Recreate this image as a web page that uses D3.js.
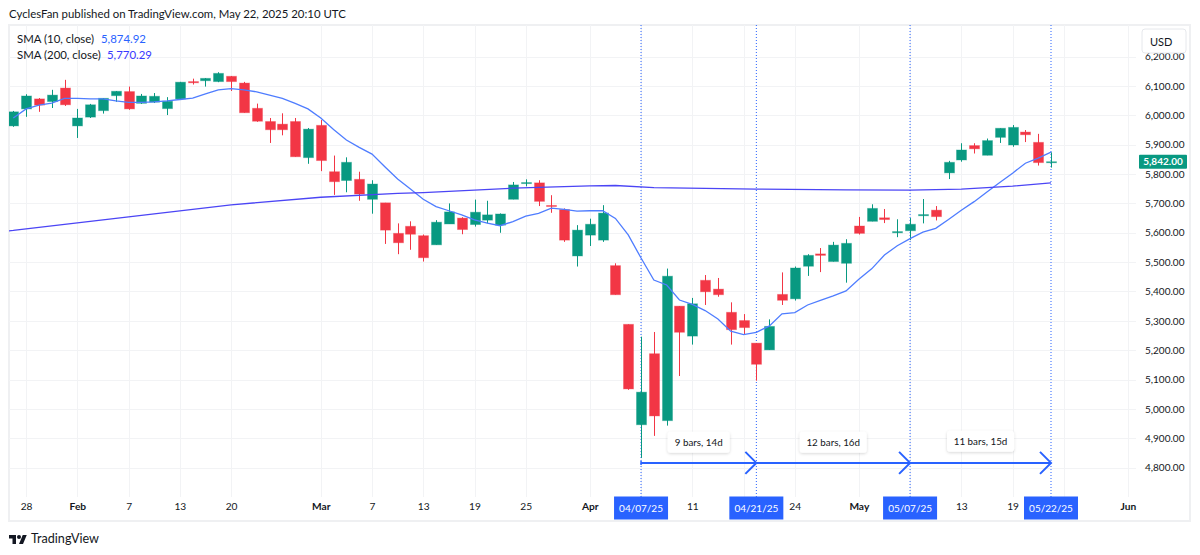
<!DOCTYPE html>
<html>
<head>
<meta charset="utf-8">
<script src="https://cdn.jsdelivr.net/npm/d3@7"></script>
<style>
  html, body { margin: 0; padding: 0; background: #fff; }
  svg { display: block; }
  text { font-family: Lato, sans-serif; fill: #131722; }
</style>
</head>
<body>
<div id="chart"></div>
<script>
// daily bars, Jan 27 to May 22 2025, one entry per trading day
var opens = [5964,6022,6056,6047,6093,5964,5994,6016,6067,6081,6041,6045,6023,6056,6115,6118,6115,6133,6110,6024,
  5979,5970,5979,5856,5966,5808,5778,5782,5714,5702,5598,5622,5590,5559,5630,5650,5628,5643,5626,5714,
  5768,5770,5693,5679,5521,5592,5575,5488,5288,4946,5188,4960,5350,5248,5438,5408,5329,5301,5224,5201,
  5390,5375,5486,5528,5502,5496,5623,5639,5651,5600,5607,5658,5677,5804,5848,5897,5864,5925,5899,5943,5908,5839];
var closes = [6012,6066,6035,6069,6036,5991,6036,6058,6082,6022,6066,6065,6048,6113,6111,6126,6143,6115,6009,5980,
  5951,5951,5859,5953,5846,5774,5840,5732,5766,5609,5566,5595,5515,5636,5671,5611,5670,5661,5664,5763,
  5771,5707,5690,5575,5609,5629,5667,5389,5068,5057,4976,5452,5261,5358,5399,5389,5270,5277,5152,5281,
  5370,5480,5523,5523,5558,5564,5598,5683,5645,5604,5629,5662,5655,5840,5882,5886,5914,5956,5959,5934,5839,5842];
var highs = [6015,6072,6059,6087,6121,6022,6039,6059,6083,6098,6073,6076,6062,6114,6125,6127,6147,6134,6114,6040,
  5991,6007,5991,5957,5984,5863,5857,5808,5779,5702,5632,5639,5594,5643,5700,5653,5713,5709,5666,5773,
  5782,5779,5728,5683,5626,5648,5694,5496,5288,5246,5262,5478,5350,5378,5456,5446,5363,5323,5224,5305,
  5465,5485,5527,5548,5569,5578,5654,5697,5681,5646,5650,5715,5691,5845,5905,5905,5921,5956,5967,5950,5937,5874];
var lows = [5961,5995,6012,6025,6032,5923,5991,6006,6046,6019,6039,6042,6001,6054,6105,6098,6113,6083,6009,5978,
  5906,5932,5859,5835,5810,5729,5738,5709,5665,5562,5527,5542,5502,5559,5630,5595,5621,5632,5600,5714,
  5758,5691,5668,5569,5485,5555,5569,5389,5065,4833,4908,4943,5112,5219,5354,5382,5219,5253,5096,5201,
  5354,5369,5453,5466,5502,5430,5594,5639,5633,5585,5575,5632,5642,5783,5842,5870,5864,5906,5893,5909,5829,5822];

var sma10 = [5991,6022,6035,6042,6058,6058,6056,6056,6049,6044,6044,6046,6049,6054,6059,6073,6087,6091,6087,6080,
  6069,6058,6041,6022,5991,5952,5916,5891,5868,5825,5783,5749,5714,5689,5675,5661,5644,5633,5624,5638,
  5657,5666,5684,5680,5674,5675,5675,5649,5593,5514,5439,5422,5371,5356,5335,5306,5265,5253,5261,5282,
  5324,5328,5354,5370,5385,5402,5442,5477,5524,5556,5580,5602,5615,5645,5677,5706,5739,5771,5803,5837,5854,5874.92];

var sma200Bars = [-1,0,9,17,24,30,32,39,45,47,50,58,65,70,74,78,81];
var sma200Values = [5604,5608,5654,5695,5721,5734,5737,5752,5760,5761,5754,5749,5746,5745,5749,5759,5770.29];

var priceTicks = [4800,4900,5000,5100,5200,5300,5400,5500,5600,5700,5800,5900,6000,6100,6200];
var tickBars = [1,5,9,13,17,24,28,32,36,40,45,49,53,57,61,66,70,74,78,82,87];
var tickLabels = ["28","Feb","7","13","20","Mar","7","13","19","25","Apr","","11","","24","May","","13","19","","Jun"];
var monthLabels = ["Feb","Mar","Apr","May","Jun"];

var markerBars = [49,58,70,81];
var markerLabels = ["04/07/25","04/21/25","05/07/25","05/22/25"];
var spanLabels = ["9 bars, 14d","12 bars, 16d","11 bars, 15d"];
var arrowPrice = 4816;
var spanLabelPrices = [4886,4886,4890];
var lastPrice = 5842;

var green = "#089981", red = "#f23645", blue = "#2962ff", grid = "#f2f3f5";

document.addEventListener('DOMContentLoaded', function(e) {
  var svg = d3.select('#chart').append('svg').attr('width',1200).attr('height',555);

  // the scales, from the tick labels in the picture
  var x = d3.scaleLinear().domain([0,81]).range([13.3,1051]);
  var y = d3.scaleLinear().domain([4800,6100]).range([467.6,86]);
  var paneL = 9, paneR = 1190, paneT = 25, paneB = 521, plotR = 1136, plotB = 497;

  svg.append('text').attr('x',9).attr('y',18).attr('font-size',11.4)
     .text('CyclesFan published on TradingView.com, May 22, 2025 20:10 UTC');

  svg.append('rect').attr('x',paneL).attr('y',paneT).attr('width',paneR-paneL).attr('height',paneB-paneT)
     .attr('fill','none').attr('stroke','#eff0f2').attr('stroke-width',2);

  svg.append('clipPath').attr('id','plot').append('rect')
     .attr('x',paneL).attr('y',paneT).attr('width',plotR-paneL).attr('height',plotB-paneT);

  // grid
  svg.append('g').selectAll('line').data(priceTicks).join('line')
     .attr('x1',paneL).attr('x2',plotR)
     .attr('y1',function(d){ return Math.round(y(d))+0.5; })
     .attr('y2',function(d){ return Math.round(y(d))+0.5; })
     .attr('stroke',grid).attr('stroke-width',1);
  svg.append('g').selectAll('line').data(tickBars).join('line')
     .attr('y1',paneT).attr('y2',plotB)
     .attr('x1',function(d){ return Math.round(x(d))+0.5; })
     .attr('x2',function(d){ return Math.round(x(d))+0.5; })
     .attr('stroke',grid).attr('stroke-width',1);

  // axes
  var priceAxis = d3.axisRight(y).tickValues(priceTicks).tickSize(0).tickPadding(0).tickFormat(d3.format(',.2f'));
  var pg = svg.append('g').attr('transform','translate(1145,0)').call(priceAxis);
  pg.select('.domain').remove();
  pg.selectAll('text').attr('font-family','Lato, sans-serif').attr('font-size',10).attr('fill','#131722');

  var timeAxis = d3.axisBottom(x).tickValues(tickBars).tickSize(0).tickPadding(0)
                   .tickFormat(function(d,i){ return tickLabels[i]; });
  var tg = svg.append('g').attr('transform','translate(0,503)').call(timeAxis);
  tg.select('.domain').remove();
  tg.selectAll('text').attr('font-family','Lato, sans-serif').attr('font-size',10.2).attr('fill','#131722')
    .attr('font-weight',function(d,i){ return monthLabels.indexOf(tickLabels[i])>=0 ? 700 : 400; });

  var plot = svg.append('g').attr('clip-path','url(#plot)');

  // date markers behind the candles
  plot.append('g').selectAll('line').data(markerBars).join('line')
      .attr('x1',function(d){ return x(d); }).attr('x2',function(d){ return x(d); })
      .attr('y1',paneT).attr('y2',plotB)
      .attr('stroke',blue).attr('stroke-width',1).attr('stroke-dasharray','1 2');

  // candles
  var bars = d3.range(opens.length);
  var colour = function(i){ return closes[i]>=opens[i] ? green : red; };
  plot.append('g').selectAll('line').data(bars).join('line')
      .attr('x1',function(i){ return Math.round(x(i))+0.5; })
      .attr('x2',function(i){ return Math.round(x(i))+0.5; })
      .attr('y1',function(i){ return y(highs[i]); })
      .attr('y2',function(i){ return y(lows[i]); })
      .attr('stroke',colour).attr('stroke-width',1);
  plot.append('g').selectAll('rect').data(bars).join('rect')
      .attr('x',function(i){ return Math.round(x(i))-4.5; })
      .attr('width',10)
      .attr('y',function(i){ return y(Math.max(opens[i],closes[i])); })
      .attr('height',function(i){ return Math.max(1,Math.abs(y(opens[i])-y(closes[i]))); })
      .attr('fill',colour)
      .attr('stroke',colour).attr('stroke-opacity',0.35).attr('stroke-width',1);

  // moving averages
  var line10 = d3.line().x(function(d,i){ return x(i); }).y(function(d){ return y(d); });
  plot.append('path').attr('d',line10(sma10)).attr('fill','none').attr('stroke','#4f7dff').attr('stroke-width',1.3);
  var line200 = d3.line().x(function(d,i){ return x(sma200Bars[i]); }).y(function(d){ return y(d); });
  plot.append('path').attr('d',line200(sma200Values)).attr('fill','none').attr('stroke','#4b45f5').attr('stroke-width',1.3);

  // measure arrows
  var ay = y(arrowPrice);
  svg.append('line').attr('x1',x(markerBars[0])).attr('x2',x(markerBars[3])).attr('y1',ay).attr('y2',ay)
     .attr('stroke',blue).attr('stroke-width',2);
  svg.append('line').attr('x1',x(markerBars[0])).attr('x2',x(markerBars[0])).attr('y1',ay-2).attr('y2',ay+2)
     .attr('stroke',blue).attr('stroke-width',1.5);
  svg.append('g').selectAll('path').data(markerBars.slice(1)).join('path')
     .attr('d',function(d){ return 'M'+(x(d)-11)+','+(ay-11)+'L'+x(d)+','+ay+'L'+(x(d)-11)+','+(ay+11); })
     .attr('fill','none').attr('stroke',blue).attr('stroke-width',2);

  // span labels
  var defs = svg.append('defs');
  var blur = defs.append('filter').attr('id','soft').attr('x','-20%').attr('y','-30%').attr('width','140%').attr('height','170%');
  blur.append('feDropShadow').attr('dx',0).attr('dy',1).attr('stdDeviation',1.5).attr('flood-color','#000').attr('flood-opacity',0.16);
  var span = svg.append('g').selectAll('g').data(spanLabels).join('g')
     .attr('transform',function(d,i){
        return 'translate('+((x(markerBars[i])+x(markerBars[i+1]))/2)+','+y(spanLabelPrices[i])+')';
     });
  span.append('rect').attr('x',function(d){ return d.length>11 ? -33.5 : -31; })
      .attr('width',function(d){ return d.length>11 ? 67 : 62; })
      .attr('y',-10.5).attr('height',21).attr('rx',3).attr('fill','#fff').attr('filter','url(#soft)');
  span.append('text').attr('text-anchor','middle').attr('dy','0.35em').attr('font-size',9.8).text(function(d){ return d; });

  // highlighted dates on the time axis
  var mark = svg.append('g').selectAll('g').data(markerBars).join('g')
     .attr('transform',function(d){ return 'translate('+x(d)+',508)'; });
  mark.append('rect').attr('x',-27).attr('y',-11.5).attr('width',54).attr('height',23).attr('fill',blue);
  mark.append('text').attr('text-anchor','middle').attr('dy','0.35em').attr('font-size',10)
      .style('fill','#fff').style('font-weight',400).text(function(d,i){ return markerLabels[i]; });

  // last price tag
  var ly = y(lastPrice);
  svg.append('rect').attr('x',1139).attr('y',ly-7).attr('width',48).attr('height',14).attr('rx',1).attr('fill',green);
  svg.append('text').attr('x',1163).attr('y',ly).attr('dy','0.35em').attr('text-anchor','middle')
     .attr('font-size',10).attr('font-weight',700).style('fill','#fff').text(d3.format(',.2f')(lastPrice));

  // USD button
  svg.append('rect').attr('x',1142).attr('y',29).attr('width',44).attr('height',24).attr('rx',3)
     .attr('fill','#fff').attr('stroke','#e6e8ec');
  svg.append('text').attr('x',1150).attr('y',46).attr('font-size',11).text('USD');

  // legend
  var legend = svg.append('g');
  legend.append('text').attr('x',17).attr('y',43).attr('font-size',11.4).text('SMA (10, close)');
  legend.append('text').attr('x',101).attr('y',43).attr('font-size',11.4).style('fill','#2962ff').text(d3.format(',.2f')(sma10[81]));
  legend.append('text').attr('x',17).attr('y',59).attr('font-size',11.4).text('SMA (200, close)');
  legend.append('text').attr('x',107).attr('y',59).attr('font-size',11.4).style('fill','#3838ff').text(d3.format(',.2f')(sma200Values[16]));

  // footer logo
  var logo = svg.append('g').attr('transform','translate(9,533) scale(0.5)');
  logo.append('path').attr('d','M14 22H7V11H0V4h14v18zM28 22h-8l7.5-18h8L28 22z').attr('fill','#131722');
  logo.append('circle').attr('cx',20).attr('cy',8).attr('r',4).attr('fill','#131722');
  svg.append('text').attr('x',31).attr('y',543).attr('font-size',12.6).text('TradingView');
});
</script>
</body>
</html>
